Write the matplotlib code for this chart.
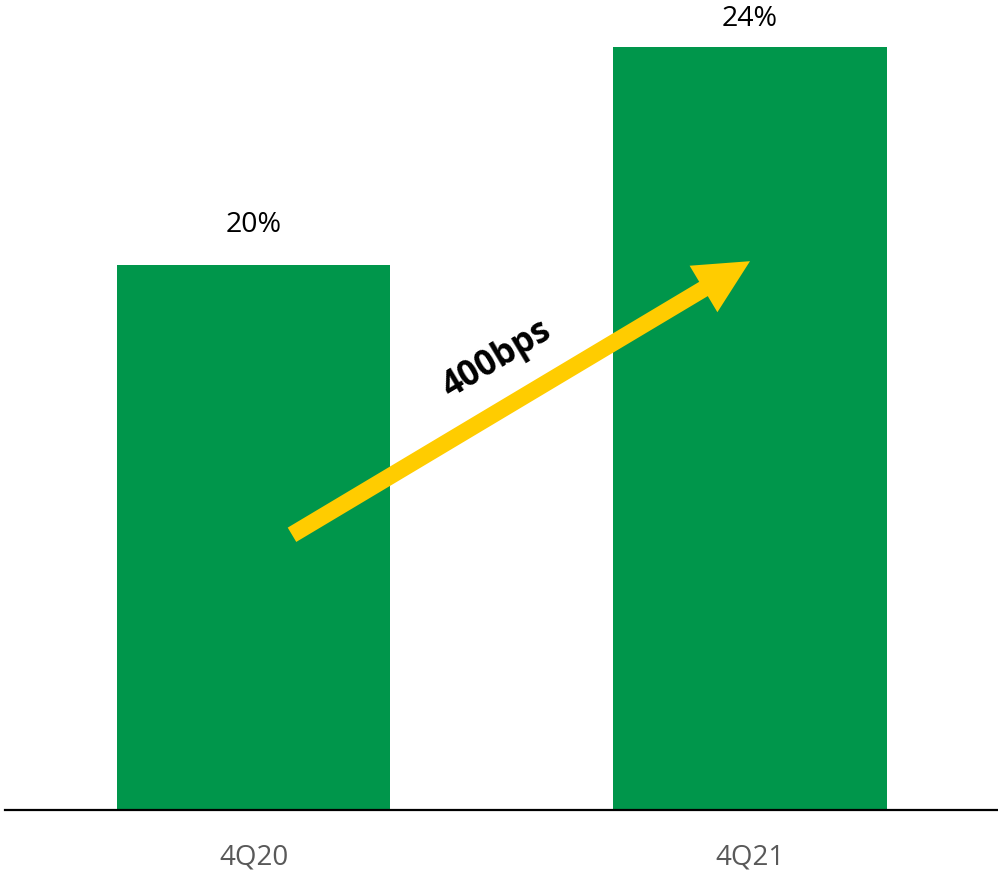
import matplotlib
matplotlib.use("Agg")
import matplotlib.pyplot as plt
from matplotlib.patches import FancyArrowPatch

categories = ["4Q20", "4Q21"]
values = [20, 24]
value_labels = ["20%", "24%"]
change_label = "400bps"

bar_color = "#00964B"
arrow_color = "#FFCC00"
label_offsets = [24, 15]  # points above bar top (last one pushed down to fit)

plt.rcParams['font.family'] = ['Open Sans', 'DejaVu Sans']

fig = plt.figure(figsize=(9.98, 8.72), dpi=100)
ax = fig.add_axes([0, 62 / 872, 1, 810 / 872])

x = list(range(len(categories)))
ax.bar(x, values, width=0.55, color=bar_color, zorder=2)

ax.set_xlim(-0.5106, 1.4995)
ax.set_ylim(10, 10 + 810 / 54.5)

for xi, v, lab, off in zip(x, values, value_labels, label_offsets):
    ax.annotate(lab, (xi, v), xytext=(0, off), textcoords="offset points",
                ha="center", va="baseline", fontsize=20.5, color="#000000",
                annotation_clip=False)

ax.set_xticks(x)
ax.set_xticklabels(categories, fontsize=20, color="#595959")
ax.tick_params(axis="x", length=0, pad=24)
ax.set_yticks([])

for s in ["left", "right", "top"]:
    ax.spines[s].set_visible(False)
ax.spines["bottom"].set_linewidth(1.6)
ax.spines["bottom"].set_color("#000000")
ax.spines["bottom"].set_bounds(-0.5005, 1.4995)

# change arrow from first bar to second bar
arrow = FancyArrowPatch((x[0] + 0.0775, 15.05), (x[1], values[0] + 0.07),
                        arrowstyle="simple,head_length=39,head_width=39,tail_width=12",
                        mutation_scale=1, color=arrow_color, lw=0,
                        shrinkA=0, shrinkB=0, zorder=3)
ax.add_patch(arrow)

ax.text(0.49, 18.26, change_label, rotation=31, rotation_mode="anchor",
        ha="center", va="center", fontsize=25, fontweight="bold", color="#000000")

fig.savefig("out.png", dpi=100)
